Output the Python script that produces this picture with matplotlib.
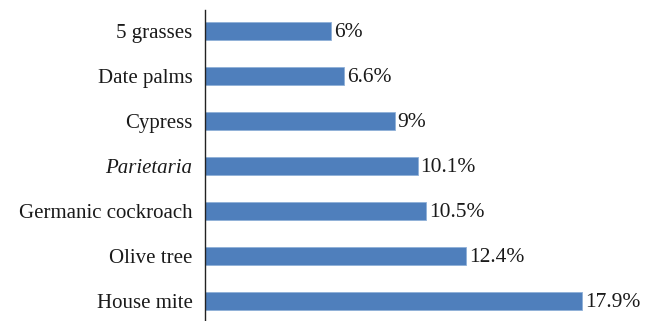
import matplotlib.pyplot as plt

# allergens, bottom to top
categories = ['House mite', 'Olive tree', 'Germanic cockroach', 'Parietaria',
              'Cypress', 'Date palms', '5 grasses']
values = [17.9, 12.4, 10.5, 10.1, 9, 6.6, 6]
value_labels = ['17.9%', '12.4%', '10.5%', '10.1%', '9%', '6.6%', '6%']

plt.rcParams['font.family'] = ['Liberation Serif', 'DejaVu Serif']

fig = plt.figure(figsize=(6.49, 3.21), dpi=100)
ax = fig.add_axes([205 / 649, 0.0, 435 / 649, 311 / 321])

y = list(range(len(categories)))
ax.barh(y, values, height=0.4, color='#4f7fbc', edgecolor='#8fb0d8', linewidth=0.6)

for yi, v, lab in zip(y, values, value_labels):
    ax.annotate(lab, (v, yi), xytext=(2, -1), textcoords='offset points',
                va='center', ha='left', fontsize=15.5, color='#1a1a1a')

ax.set_yticks(y)
ax.set_yticklabels(categories, fontsize=15, color='#1a1a1a')
for t in ax.get_yticklabels():
    if t.get_text() == 'Parietaria':
        t.set_fontstyle('italic')
ax.tick_params(axis='y', length=0, pad=9)
ax.set_xticks([])
ax.set_xlim(0, 20.65)
ax.set_ylim(-0.444, 6.467)

for s in ['top', 'right', 'bottom']:
    ax.spines[s].set_visible(False)
ax.spines['left'].set_color('#222222')
ax.spines['left'].set_linewidth(1.0)

fig.savefig('out.png', dpi=100)
